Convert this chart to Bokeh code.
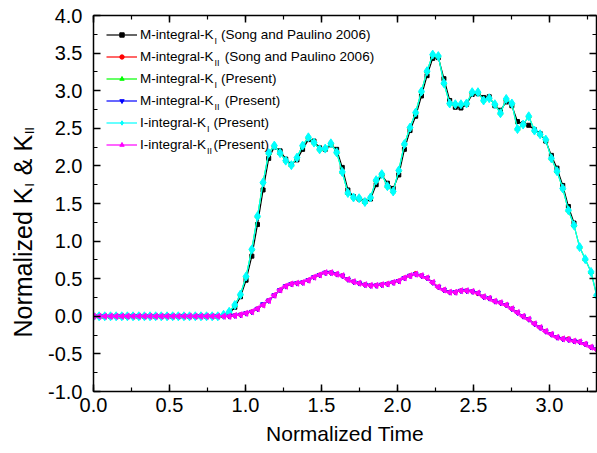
import math
from bokeh.plotting import figure
from bokeh.layouts import row
from bokeh.models import (LinearAxis, SingleIntervalTicker, Range1d, Legend,
                          LegendItem, Label, NumeralTickFormatter)
from bokeh.core.properties import value
from bokeh.embed import file_html
from bokeh.resources import INLINE

# ---------------- data ----------------
time = [0.000, 0.037, 0.074, 0.112, 0.149, 0.186, 0.223, 0.260, 0.298, 0.335,
        0.372, 0.409, 0.446, 0.484, 0.521, 0.558, 0.595, 0.632, 0.670, 0.707,
        0.744, 0.781, 0.818, 0.856, 0.893, 0.930, 0.967, 1.004, 1.042, 1.079,
        1.116, 1.153, 1.190, 1.228, 1.265, 1.302, 1.339, 1.376, 1.414, 1.451,
        1.488, 1.525, 1.562, 1.600, 1.637, 1.674, 1.711, 1.748, 1.786, 1.823,
        1.860, 1.897, 1.934, 1.972, 2.009, 2.046, 2.083, 2.120, 2.158, 2.195,
        2.232, 2.269, 2.306, 2.344, 2.381, 2.418, 2.455, 2.492, 2.530, 2.567,
        2.604, 2.641, 2.678, 2.716, 2.753, 2.790, 2.827, 2.864, 2.902, 2.939,
        2.976, 3.013, 3.050, 3.088, 3.125, 3.162, 3.199, 3.236, 3.274, 3.311]

ki_song = [0.00, 0.00, 0.00, 0.00, 0.00, 0.00, 0.00, 0.00, 0.00, 0.00,
           0.00, 0.00, 0.00, 0.00, 0.00, 0.00, 0.00, 0.00, 0.00, 0.00,
           0.00, 0.00, 0.00, 0.01, 0.04, 0.12, 0.26, 0.48, 0.80, 1.22,
           1.68, 2.10, 2.25, 2.20, 2.09, 2.02, 2.08, 2.22, 2.35, 2.33,
           2.24, 2.22, 2.28, 2.22, 1.98, 1.68, 1.59, 1.56, 1.53, 1.56,
           1.75, 1.88, 1.77, 1.70, 1.88, 2.22, 2.47, 2.66, 2.93, 3.20,
           3.43, 3.44, 3.16, 2.87, 2.78, 2.77, 2.82, 2.95, 2.96, 2.91,
           2.92, 2.80, 2.74, 2.85, 2.80, 2.59, 2.56, 2.54, 2.48, 2.43,
           2.33, 2.14, 1.97, 1.74, 1.46, 1.24]

kii_song = [0.00, 0.00, 0.00, 0.00, 0.00, 0.00, 0.00, 0.00, 0.00, 0.00,
            0.00, 0.00, 0.00, 0.00, 0.00, 0.00, 0.00, 0.00, 0.00, 0.00,
            0.00, 0.00, 0.00, 0.00, 0.00, 0.01, 0.02, 0.04, 0.06, 0.10,
            0.15, 0.21, 0.28, 0.35, 0.40, 0.43, 0.44, 0.45, 0.48, 0.52,
            0.55, 0.58, 0.58, 0.56, 0.54, 0.49, 0.46, 0.44, 0.42, 0.41,
            0.41, 0.42, 0.43, 0.45, 0.47, 0.51, 0.54, 0.57, 0.54, 0.51,
            0.45, 0.39, 0.35, 0.32, 0.32, 0.34, 0.34, 0.33, 0.30, 0.26,
            0.24, 0.20, 0.18, 0.15, 0.10, 0.05, 0.00, -0.04, -0.10, -0.15,
            -0.20, -0.24, -0.28, -0.30, -0.30, -0.33, -0.34, -0.37, -0.41, -0.44]

ki_m_present = [0.00, 0.00, 0.00, 0.00, 0.00, 0.00, 0.00, 0.00, 0.00, 0.00,
                0.00, 0.00, 0.00, 0.00, 0.00, 0.00, 0.00, 0.00, 0.00, 0.00,
                0.00, 0.00, 0.00, 0.02, 0.06, 0.15, 0.29, 0.53, 0.89, 1.33,
                1.78, 2.17, 2.27, 2.17, 2.07, 2.01, 2.11, 2.27, 2.38, 2.31,
                2.22, 2.23, 2.30, 2.18, 1.92, 1.64, 1.58, 1.57, 1.52, 1.58,
                1.81, 1.89, 1.73, 1.66, 1.94, 2.29, 2.51, 2.71, 2.99, 3.26,
                3.48, 3.46, 3.10, 2.83, 2.82, 2.82, 2.83, 2.98, 2.98, 2.87,
                2.90, 2.82, 2.70, 2.89, 2.83, 2.49, 2.55, 2.66, 2.47, 2.42,
                2.35, 2.10, 1.93, 1.70, 1.41, 1.21, 0.92, 0.76, 0.59, 0.28]

kii_m_present = [0.00, 0.00, 0.00, 0.00, 0.00, 0.00, 0.00, 0.00, 0.00, 0.00,
                 0.00, 0.00, 0.00, 0.00, 0.00, 0.00, 0.00, 0.00, 0.00, 0.00,
                 0.00, 0.00, 0.00, 0.00, 0.00, 0.01, 0.02, 0.04, 0.06, 0.10,
                 0.16, 0.21, 0.28, 0.35, 0.40, 0.43, 0.44, 0.45, 0.48, 0.52,
                 0.55, 0.58, 0.58, 0.56, 0.54, 0.49, 0.46, 0.44, 0.42, 0.41,
                 0.41, 0.42, 0.43, 0.45, 0.47, 0.51, 0.54, 0.56, 0.54, 0.51,
                 0.45, 0.39, 0.35, 0.32, 0.32, 0.34, 0.34, 0.33, 0.31, 0.26,
                 0.24, 0.20, 0.18, 0.15, 0.10, 0.05, 0.00, -0.04, -0.10, -0.15,
                 -0.20, -0.24, -0.28, -0.30, -0.31, -0.33, -0.34, -0.37, -0.41, -0.44]

ki_i_present = [0.00, 0.00, 0.00, 0.00, 0.00, 0.00, 0.00, 0.00, 0.00, 0.00,
                0.00, 0.00, 0.00, 0.00, 0.00, 0.00, 0.00, 0.00, 0.00, 0.00,
                0.00, 0.00, 0.00, 0.02, 0.06, 0.15, 0.29, 0.53, 0.89, 1.33,
                1.78, 2.17, 2.27, 2.17, 2.07, 2.01, 2.11, 2.27, 2.38, 2.31,
                2.22, 2.23, 2.30, 2.18, 1.92, 1.64, 1.58, 1.57, 1.52, 1.58,
                1.81, 1.89, 1.73, 1.66, 1.94, 2.29, 2.51, 2.71, 2.99, 3.26,
                3.48, 3.46, 3.10, 2.83, 2.82, 2.82, 2.83, 2.98, 2.98, 2.87,
                2.90, 2.82, 2.70, 2.89, 2.83, 2.49, 2.55, 2.66, 2.47, 2.42,
                2.35, 2.10, 1.93, 1.70, 1.41, 1.21, 0.92, 0.76, 0.59, 0.28]

kii_i_present = [0.00, 0.00, 0.00, 0.00, 0.00, 0.00, 0.00, 0.00, 0.00, 0.00,
                 0.00, 0.00, 0.00, 0.00, 0.00, 0.00, 0.00, 0.00, 0.00, 0.00,
                 0.00, 0.00, 0.00, 0.00, 0.00, 0.01, 0.02, 0.04, 0.06, 0.10,
                 0.15, 0.21, 0.28, 0.35, 0.40, 0.43, 0.44, 0.45, 0.48, 0.52,
                 0.55, 0.58, 0.58, 0.56, 0.54, 0.49, 0.46, 0.44, 0.42, 0.41,
                 0.41, 0.42, 0.43, 0.45, 0.47, 0.51, 0.54, 0.56, 0.54, 0.51,
                 0.45, 0.39, 0.35, 0.32, 0.32, 0.34, 0.34, 0.33, 0.31, 0.26,
                 0.24, 0.20, 0.18, 0.15, 0.10, 0.05, 0.00, -0.04, -0.10, -0.15,
                 -0.20, -0.24, -0.28, -0.30, -0.31, -0.33, -0.34, -0.37, -0.41, -0.44]

x_range = (0.0, 3.31)
y_range = (-1.0, 4.0)

# legend text pieces: (prefix before subscript, subscript, rest)
legend_parts = [
    ("M-integral-K", "I", "\u00a0\u00a0(Song and Paulino 2006)"),
    ("M-integral-K", "II", "\u00a0\u00a0\u00a0(Song and Paulino 2006)"),
    ("M-integral-K", "I", "\u00a0\u00a0(Present)"),
    ("M-integral-K", "II", "\u00a0\u00a0\u00a0(Present)"),
    ("I-integral-K", "I", "\u00a0\u00a0(Present)"),
    ("I-integral-K", "II", "\u00a0\u00a0(Present)"),
]
# y-axis title pieces: (text, is_subscript)
y_title_parts = [("Normalized K", False), ("I", True), ("& K", False), ("II", True)]

# ---------------- layout ----------------
FONT = "Liberation Sans"
W, H = 597, 453
TITLE_W = 45
LEFT, TOP, RIGHT = 47, 15, 1
FRAME_H = 376
BOTTOM = H - TOP - FRAME_H

# Arial/Liberation Sans advance widths (per 1000 em)
ADV = {"M": 833, "-": 333, "i": 222, "n": 556, "t": 278, "e": 556, "g": 556,
       "r": 333, "a": 556, "l": 222, "K": 667, "I": 278, "N": 722, "o": 556,
       "m": 833, "z": 500, "d": 556, " ": 278, "\u00a0": 278, "&": 667}


def text_w(s, fs):
    return sum(ADV.get(c, 556) for c in s) * fs / 1000.0


# ---- narrow strip holding the y axis title ----
# (its frame is aligned by the row layout with the main frame: top 15, bottom 391,
#  so the ranges below make one unit equal one pixel, y measured from page bottom)
pt = figure(width=TITLE_W, height=H, output_backend="svg", toolbar_location=None,
            x_range=Range1d(0, TITLE_W), y_range=Range1d(BOTTOM, H - TOP),
            x_axis_location=None, y_axis_location=None,
            min_border_left=0, min_border_right=0,
            min_border_top=TOP, min_border_bottom=BOTTOM)
pt.outline_line_color = None
pt.grid.visible = False
pt.background_fill_color = "white"
pt.border_fill_color = "white"

YT_FS = 25
YT_SUB = 12
YT_BASE = 22
YT_START = H - 337
ypos = YT_START
for txt, is_sub in y_title_parts:
    fs = YT_SUB if is_sub else YT_FS
    xb = YT_BASE + (7 if is_sub else 0)
    pt.text(x=[xb], y=[ypos], text=[txt], angle=math.pi / 2,
            text_font=value(FONT), text_font_size=f"{fs}px",
            text_baseline="alphabetic", text_align="left", text_color="black")
    ypos += text_w(txt, fs) + (text_w(" ", YT_FS) + 1 if is_sub else 1)

# ---- main plot ----
p = figure(width=W - TITLE_W, height=H, output_backend="svg", toolbar_location=None,
           x_range=Range1d(*x_range), y_range=Range1d(*y_range),
           min_border_left=LEFT, min_border_top=TOP,
           min_border_bottom=BOTTOM, min_border_right=RIGHT)
p.xgrid.visible = False
p.ygrid.visible = False
p.outline_line_color = None
p.background_fill_color = "white"
p.border_fill_color = "white"


def style_axis(ax, show_labels=True, standoff=8):
    ax.ticker = SingleIntervalTicker(interval=0.5, num_minor_ticks=2)
    ax.formatter = NumeralTickFormatter(format="0.0")
    ax.axis_line_color = "black"
    ax.axis_line_width = 1.5
    ax.major_tick_line_color = "black"
    ax.major_tick_line_width = 1.5
    ax.minor_tick_line_color = "black"
    ax.minor_tick_line_width = 1.2
    ax.major_tick_in = 7
    ax.major_tick_out = 0
    ax.minor_tick_in = 4
    ax.minor_tick_out = 0
    ax.major_label_text_font = FONT
    if show_labels:
        ax.major_label_text_color = "black"
        ax.major_label_text_font_size = "20px"
        ax.major_label_standoff = standoff
    else:
        ax.major_label_text_color = None
        ax.major_label_text_font_size = "0px"
        ax.major_label_standoff = 0


style_axis(p.xaxis[0], standoff=6)
style_axis(p.yaxis[0], standoff=11)
xa = p.xaxis[0]
xa.axis_label = "Normalized Time"
xa.axis_label_text_font = FONT
xa.axis_label_text_font_size = "21px"
xa.axis_label_text_font_style = "normal"
xa.axis_label_text_color = "black"
xa.axis_label_standoff = 7

top_axis = LinearAxis()
style_axis(top_axis, show_labels=False)
p.add_layout(top_axis, "above")
right_axis = LinearAxis()
style_axis(right_axis, show_labels=False)
p.add_layout(right_axis, "right")

# ---------------- series ----------------
series = [
    (ki_song, "black", "square", 4, 0.0),
    (kii_song, "red", "circle", 4, 0.0),
    (ki_m_present, "#00ff00", "triangle", 5, 0.0),
    (kii_m_present, "blue", "inverted_triangle", 5, 0.0),
    (ki_i_present, "cyan", "diamond", 9, 0.0),
    (kii_i_present, "magenta", "triangle", 6, math.pi / 2),
]

items = []
for (vals, color, marker, size, ang), parts in zip(series, legend_parts):
    xs = time[:len(vals)]
    lr = p.line(xs, vals, line_color=color, line_width=1.2)
    sr = p.scatter(xs, vals, marker=marker, size=size, angle=ang,
                   fill_color=color, line_color=color)
    items.append(LegendItem(label=parts[0] + parts[2], renderers=[lr, sr]))

# ---------------- legend ----------------
LEG_FS = 13.5
PAD = 9
GLYPH_W = 31
STANDOFF = 3
ROW_H = 19
SPACING = 3
LEG_X = 13
n = len(items)
leg_h = 2 * PAD + n * ROW_H + (n - 1) * SPACING
leg_top_gap = -8
leg_y = FRAME_H - leg_top_gap - leg_h

legend = Legend(items=items, location=(LEG_X, leg_y),
                label_text_font=FONT, label_text_font_size=f"{LEG_FS}px",
                label_text_color="black", glyph_width=GLYPH_W,
                glyph_height=11, label_height=ROW_H, spacing=SPACING,
                padding=PAD, margin=0, label_standoff=STANDOFF,
                border_line_color=None, background_fill_alpha=0.0)
p.add_layout(legend, "center")

SUB_FS = 9
text_x0 = LEG_X + GLYPH_W + STANDOFF
for k, parts in enumerate(legend_parts):
    row_c = 20 + k * (ROW_H + SPACING)
    p.add_layout(Label(x=text_x0 + text_w(parts[0], LEG_FS) + 0.6,
                       y=FRAME_H - row_c - 5,
                       x_units="screen", y_units="screen", text=parts[1],
                       text_font=FONT, text_font_size=f"{SUB_FS}px",
                       text_baseline="middle", text_align="left",
                       text_color="black"))

layout = row(pt, p, spacing=0)
open("out.html", "w").write(file_html(layout, INLINE))
